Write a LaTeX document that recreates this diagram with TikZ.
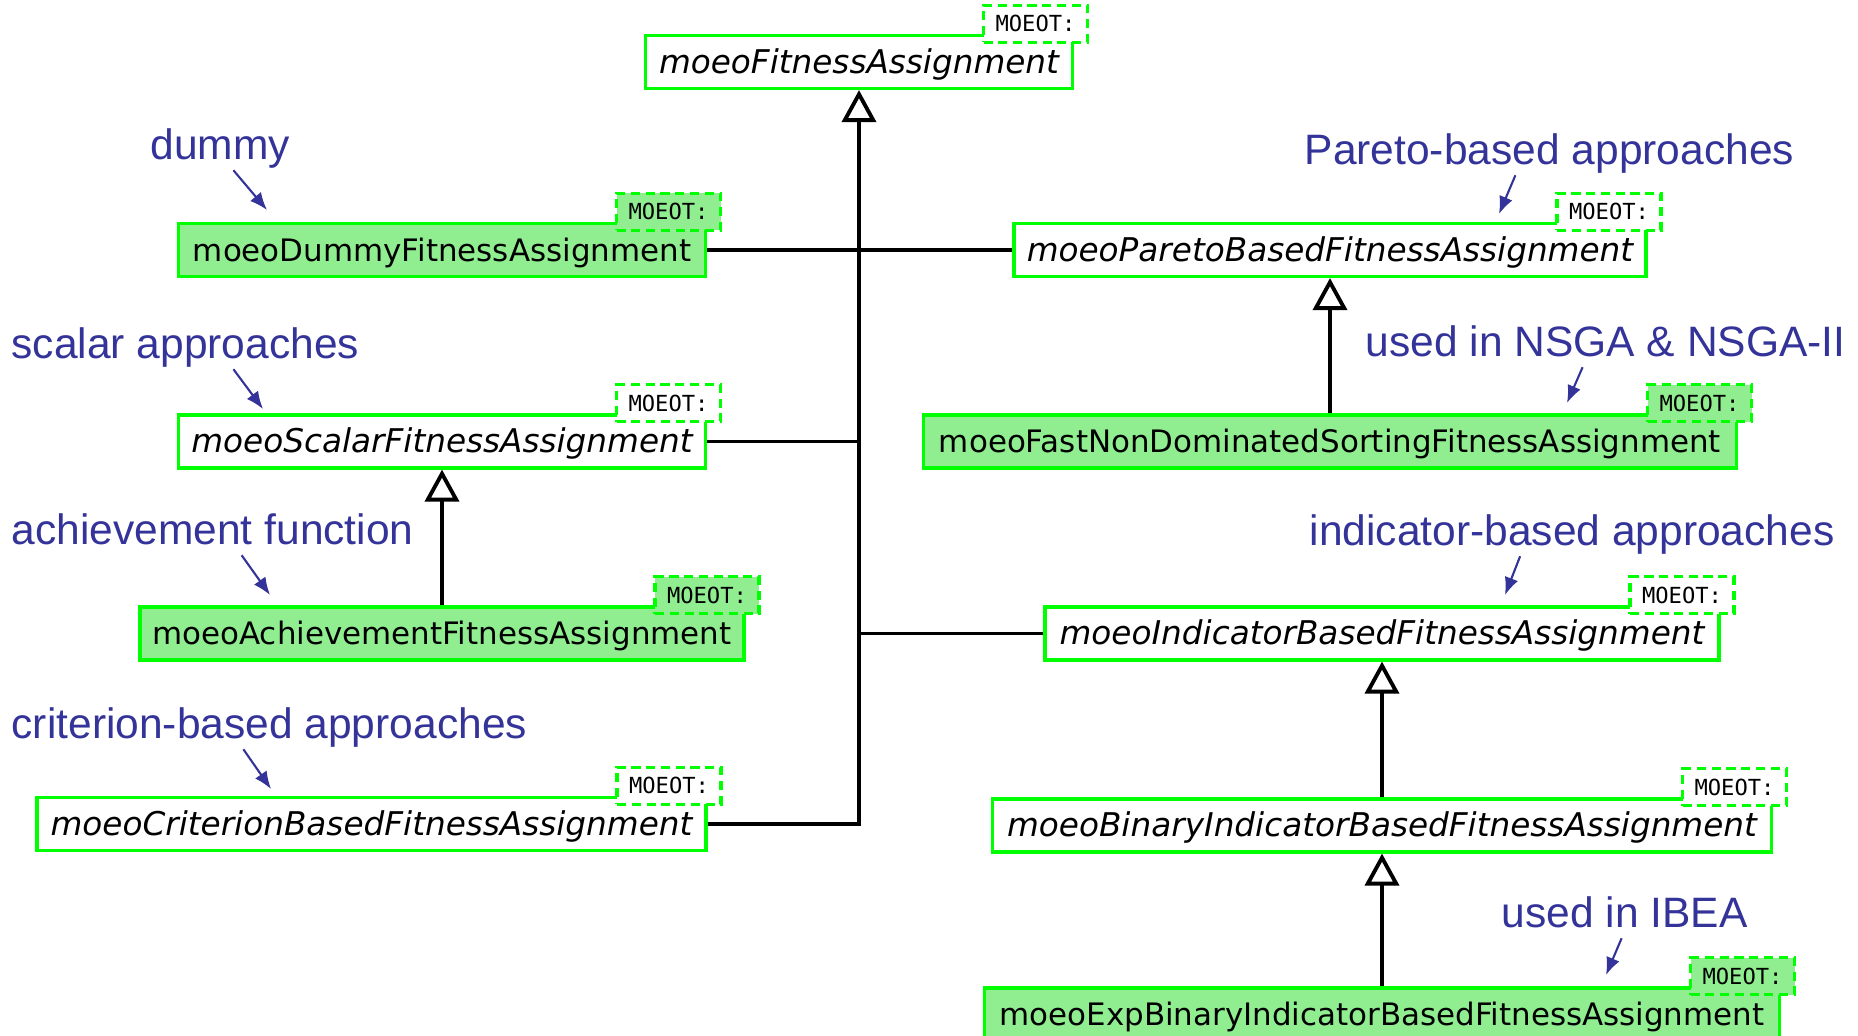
\documentclass[tikz,border=0pt]{standalone}
\usepackage{fontspec}
\setmainfont{DejaVu Sans}
\newfontfamily\notefont{Liberation Sans}
\newfontfamily\tparamfont{DejaVu Sans Mono}
\usetikzlibrary{arrows.meta, positioning}

\definecolor{umlgreen}{RGB}{0,255,0}
\definecolor{umlfill}{RGB}{144,238,144}
\definecolor{notecol}{RGB}{51,51,153}

\begin{document}
\begin{tikzpicture}[y=-1cm,
    abstractcls/.style={draw=umlgreen, line width=0.9pt, fill=white, inner sep=0pt,
      minimum height=0.53cm, text height=0.74em, text depth=0.1em,
      font=\fontsize{9.3}{11}\selectfont\itshape},
    concretecls/.style={abstractcls, fill=umlfill, font=\fontsize{8.8}{11}\selectfont},
    tparam/.style={draw=umlgreen, line width=0.9pt, dash pattern=on 2.6pt off 1.6pt,
      fill=white, inner sep=0pt, minimum width=1.04cm, minimum height=0.37cm,
      font=\tparamfont\fontsize{6.3}{7}\selectfont},
    tparamf/.style={tparam, fill=umlfill},
    link/.style={line width=1.1pt, black},
    inherit/.style={link, -{Triangle[open, length=0.32cm, width=0.34cm]}},
    note/.style={text=notecol, inner sep=0pt, text depth=0.3em,
      font=\notefont\fontsize{12.1}{14}\selectfont},
    notearrow/.style={draw=notecol, line width=0.6pt, -{Latex[length=5pt, width=4pt]}}]

    \useasboundingbox (0,0) rectangle (18.58,10.36);

    % Classes
    \node[abstractcls, minimum width=4.27cm] (fa) at (8.59,0.62) {moeoFitnessAssignment};
    \node[concretecls, minimum width=5.27cm] (dummy) at (4.42,2.50) {moeoDummyFitnessAssignment};
    \node[abstractcls, minimum width=6.32cm] (pareto) at (13.30,2.50) {moeoParetoBasedFitnessAssignment};
    \node[abstractcls, minimum width=5.27cm] (scalar) at (4.42,4.415) {moeoScalarFitnessAssignment};
    \node[concretecls, minimum width=8.13cm] (fastnd) at (13.30,4.415) {moeoFastNonDominatedSortingFitnessAssignment};
    \node[concretecls, minimum width=6.04cm] (achv) at (4.42,6.335) {moeoAchievementFitnessAssignment};
    \node[abstractcls, minimum width=6.74cm] (indic) at (13.82,6.335) {moeoIndicatorBasedFitnessAssignment};
    \node[abstractcls, minimum width=6.69cm] (crit) at (3.715,8.24) {moeoCriterionBasedFitnessAssignment};
    \node[abstractcls, minimum width=7.79cm] (binind) at (13.82,8.255) {moeoBinaryIndicatorBasedFitnessAssignment};
    \node[concretecls, minimum width=7.95cm] (expbin) at (13.82,10.145) {moeoExpBinaryIndicatorBasedFitnessAssignment};

    % Template parameters
    \node[tparam, above left=-0.10cm and -0.15cm of fa.north east] (faT) {MOEOT:};
    \node[tparamf, above left=-0.10cm and -0.15cm of dummy.north east] (dummyT) {MOEOT:};
    \node[tparam, above left=-0.10cm and -0.15cm of pareto.north east] (paretoT) {MOEOT:};
    \node[tparam, above left=-0.10cm and -0.15cm of scalar.north east] (scalarT) {MOEOT:};
    \node[tparamf, above left=-0.10cm and -0.15cm of fastnd.north east] (fastndT) {MOEOT:};
    \node[tparamf, above left=-0.10cm and -0.15cm of achv.north east] (achvT) {MOEOT:};
    \node[tparam, above left=-0.10cm and -0.15cm of indic.north east] (indicT) {MOEOT:};
    \node[tparam, above left=-0.10cm and -0.15cm of crit.north east] (critT) {MOEOT:};
    \node[tparam, above left=-0.10cm and -0.15cm of binind.north east] (binindT) {MOEOT:};
    \node[tparamf, above left=-0.10cm and -0.15cm of expbin.north east] (expbinT) {MOEOT:};

    % Inheritance
    \draw[link] (dummy) -- (pareto);
    \draw[inherit] (crit.east) -| (fa.south);
    \draw[link] (scalar.east) -- (scalar.east -| fa.south);
    \draw[link] (indic.west) -- (indic.west -| fa.south);
    \draw[inherit] (achv) -- (scalar);
    \draw[inherit] (fastnd) -- (pareto);
    \draw[inherit] (binind) -- (indic);
    \draw[inherit] (expbin) -- (binind);

    % Notes
    \node[note, anchor=base west] (dummylbl) at (1.50,1.59) {dummy};
    \node[note, anchor=base west] (paretolbl) at (13.04,1.64) {Pareto-based approaches};
    \node[note, anchor=base west] (scalarlbl) at (0.11,3.58) {scalar approaches};
    \node[note, anchor=base west] (nsgalbl) at (13.65,3.56) {used in NSGA \& NSGA-II};
    \node[note, anchor=base west] (achvlbl) at (0.11,5.44) {achievement function};
    \node[note, anchor=base west] (indiclbl) at (13.09,5.45) {indicator-based approaches};
    \node[note, anchor=base west] (critlbl) at (0.11,7.38) {criterion-based approaches};
    \node[note, anchor=base west] (ibealbl) at (15.01,9.27) {used in IBEA};

    \coordinate (dummytip) at (2.67,2.10);
    \coordinate (paretotip) at (14.99,2.14);
    \coordinate (scalartip) at (2.63,4.09);
    \coordinate (nsgatip) at (15.67,4.03);
    \coordinate (achvtip) at (2.70,5.95);
    \coordinate (indictip) at (15.05,5.95);
    \coordinate (crittip) at (2.71,7.89);
    \coordinate (ibeatip) at (16.06,9.75);

    \draw[notearrow] ([xshift=0.13cm]dummylbl.south) -- (dummytip);
    \draw[notearrow] ([xshift=-0.34cm]paretolbl.south) -- (paretotip);
    \draw[notearrow] ([xshift=0.48cm]scalarlbl.south) -- (scalartip);
    \draw[notearrow] ([xshift=-0.23cm]nsgalbl.south) -- (nsgatip);
    \draw[notearrow] ([xshift=0.29cm]achvlbl.south) -- (achvtip);
    \draw[notearrow] ([xshift=-0.52cm]indiclbl.south) -- (indictip);
    \draw[notearrow] ([xshift=-0.26cm]critlbl.south) -- (crittip);
    \draw[notearrow] ([xshift=-0.03cm]ibealbl.south) -- (ibeatip);
\end{tikzpicture}
\end{document}
